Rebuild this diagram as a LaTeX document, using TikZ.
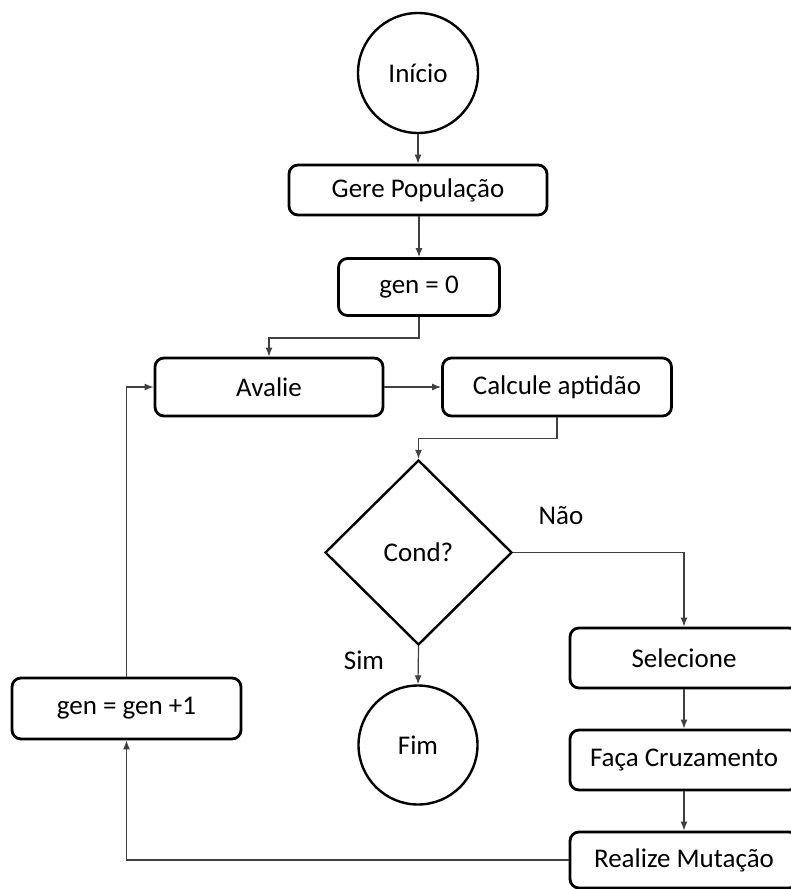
\documentclass[tikz,border=0pt]{standalone}
\usepackage{fontspec}
\setmainfont{Carlito}
\usetikzlibrary{shapes.geometric,arrows.meta}
\begin{document}
\begin{tikzpicture}[x=1pt,y=-1pt,
  every node/.style={font=\fontsize{27}{32}\selectfont},
  boxnode/.style={draw=black,line width=2.8pt,rounded corners=9pt,inner sep=0pt},
  circnode/.style={draw=black,line width=2.4pt,circle,inner sep=0pt},
  decnode/.style={draw=black,line width=2.4pt,diamond,inner sep=0pt,minimum width=187pt,minimum height=185pt},
  conn/.style={draw=black!75,line width=1.2pt,-{Latex[length=9pt,width=7pt]}},
  lbl/.style={inner sep=0pt}]
\useasboundingbox (0,0) rectangle (791,889);
\node[circnode,minimum size=120pt] (inicio) at (418,73) {Início};
\node[boxnode,minimum width=258pt,minimum height=50pt] (gere) at (418,190) {Gere População};
\node[boxnode,minimum width=161pt,minimum height=57pt] (gen0) at (419,287) {gen = 0};
\node[boxnode,minimum width=228pt,minimum height=58pt] (avalie) at (269,387) {Avalie};
\node[boxnode,minimum width=229pt,minimum height=58pt] (calc) at (557,387) {Calcule aptidão};
\node[decnode] (cond) at (418.5,552.5) {Cond?};
\node[circnode,minimum size=119pt] (fim) at (418,745) {Fim};
\node[boxnode,minimum width=228pt,minimum height=60pt] (sel) at (684,658) {Selecione};
\node[boxnode,minimum width=228pt,minimum height=60pt] (faca) at (684,760) {Faça Cruzamento};
\node[boxnode,minimum width=228pt,minimum height=56pt] (real) at (684,860) {Realize Mutação};
\node[boxnode,minimum width=229pt,minimum height=61pt] (genp) at (126.5,708.5) {gen = gen +1};
\node[lbl] (nao) at (561,516) {Não};
\node[lbl] (sim) at (364,660) {Sim};

\draw[conn] (inicio.south) -- (gere.north);
\draw[conn] (gere.south -| gen0.north) -- (gen0.north);
\draw[conn] (gen0.south) -- ++(0,21) -| (avalie.north);
\draw[conn] (avalie.east) -- (calc.west);
\draw[conn] (calc.south) -- ++(0,21) -| (cond.north);
\draw[conn] (cond.east) -| (sel.north);
\draw[conn] (cond.south) -- (fim.north);
\draw[conn] (sel.south) -- (faca.north);
\draw[conn] (faca.south) -- (real.north);
\draw[conn] (real.west) -| (genp.south);
\draw[conn] (genp.north) |- (avalie.west);
\end{tikzpicture}
\end{document}
